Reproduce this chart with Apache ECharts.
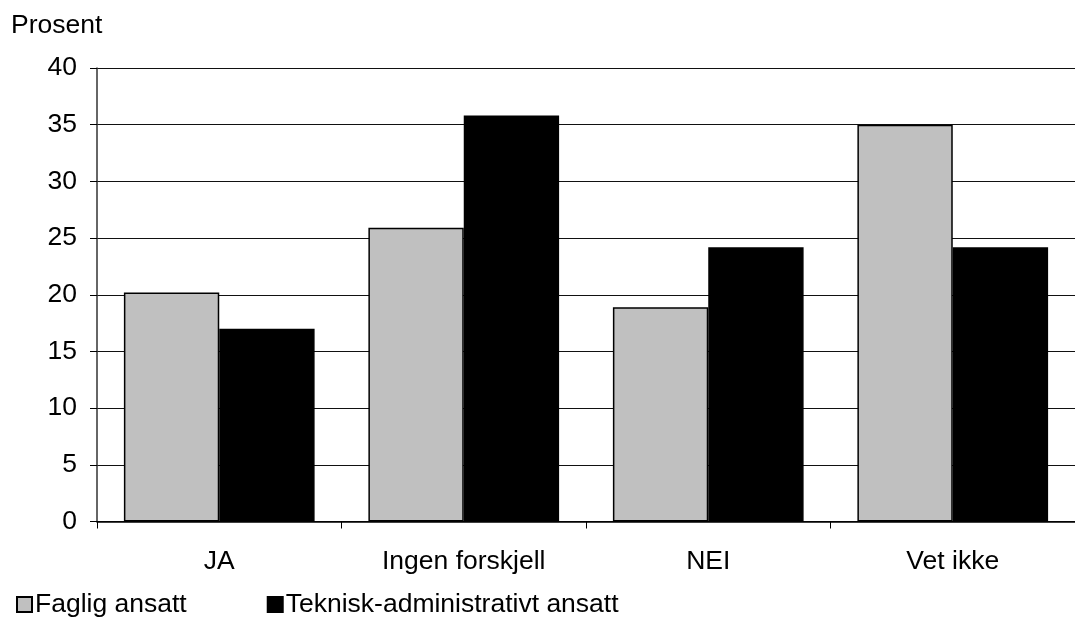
<!DOCTYPE html>
<html>
<head>
<meta charset="utf-8">
<script src="https://cdn.jsdelivr.net/npm/echarts@6/dist/echarts.min.js"></script>
<style>
  html, body { margin: 0; padding: 0; background: #fff; }
  #chart { width: 1075px; height: 621px; }
</style>
</head>
<body>
<div id="chart"></div>
<script>
// Svar fordelt på kategori og ansattgruppe (prosent)
const categories = ['JA', 'Ingen forskjell', 'NEI', 'Vet ikke'];
const seriesNames = ['Faglig ansatt', 'Teknisk-administrativt ansatt'];
const faglig = [20.2, 25.9, 18.9, 35.0];
const teknisk = [17.0, 35.8, 24.2, 24.2];
const yTicks = { min: 0, max: 40, interval: 5 };
const yAxisTitle = 'Prosent';

const FONT = '"Liberation Sans", Arial, sans-serif';
const FS = 26.5;

const chart = echarts.init(document.getElementById('chart'), null, { renderer: 'canvas' });

chart.setOption({
  animation: false,
  backgroundColor: '#ffffff',
  title: {
    text: yAxisTitle,
    left: 6,
    top: 7,
    textStyle: { fontFamily: FONT, fontSize: FS, fontWeight: 'normal', color: '#000' }
  },
  legend: {
    left: 11,
    top: 591,
    padding: [0, 5, 0, 5],
    itemWidth: 15,
    itemHeight: 15,
    itemGap: 80,
    icon: 'rect',
    textStyle: { fontFamily: FONT, fontSize: FS, color: '#000', padding: [0, 0, 0, -2] },
    data: seriesNames
  },
  grid: {
    left: 97,
    top: 68,
    width: 988,
    height: 453.5,
    containLabel: false
  },
  xAxis: {
    type: 'category',
    data: categories,
    axisLine: { show: true, lineStyle: { color: '#000', width: 1.5 } },
    axisTick: { show: true, length: 7, lineStyle: { color: '#000', width: 1 } },
    axisLabel: { margin: 27, fontFamily: FONT, fontSize: FS, color: '#000' },
    splitLine: { show: false }
  },
  yAxis: {
    type: 'value',
    min: yTicks.min,
    max: yTicks.max,
    interval: yTicks.interval,
    axisLine: { show: true, lineStyle: { color: '#333', width: 1.5 } },
    axisTick: { show: true, length: 7, lineStyle: { color: '#000', width: 1 } },
    axisLabel: { margin: 20, fontFamily: FONT, fontSize: FS, color: '#000' },
    splitLine: { show: true, lineStyle: { color: '#111', width: 1 } }
  },
  series: [
    {
      name: seriesNames[0],
      type: 'bar',
      data: faglig,
      barGap: '0%',
      barCategoryGap: '22%',
      itemStyle: { color: '#c0c0c0', borderColor: '#000', borderWidth: 1.5 }
    },
    {
      name: seriesNames[1],
      type: 'bar',
      data: teknisk,
      barGap: '0%',
      barCategoryGap: '22%',
      itemStyle: { color: '#000', borderColor: '#000', borderWidth: 1.5 }
    }
  ]
});
</script>
</body>
</html>
